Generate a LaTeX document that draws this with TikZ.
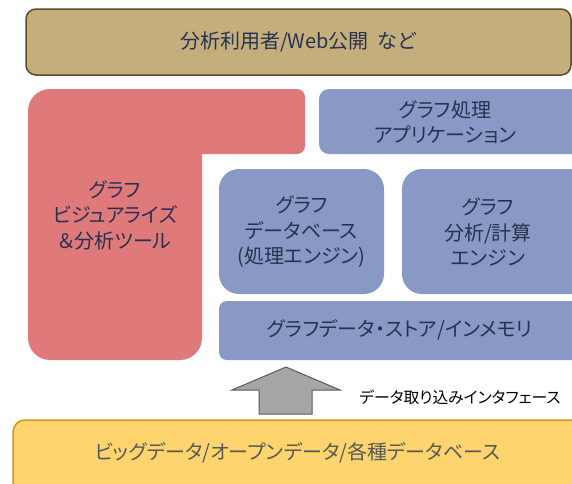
\documentclass[tikz,border=0pt]{standalone}
\usepackage{fontspec}
\setmainfont{Noto Sans CJK JP}[RawFeature={+palt}]
\definecolor{topfill}{HTML}{C4AE7C}
\definecolor{topline}{HTML}{5B4A2A}
\definecolor{redfill}{HTML}{E07A7A}
\definecolor{bluefill}{HTML}{8899C5}
\definecolor{botfill}{HTML}{FDD46E}
\definecolor{botline}{HTML}{D09A10}
\definecolor{txt}{HTML}{283250}
\definecolor{bottxt}{HTML}{595959}
\definecolor{arrowfill}{HTML}{A6A6A6}
\definecolor{arrowline}{HTML}{595959}
\tikzset{
  maintext/.style={text=txt, align=center, font=\fontsize{20}{25.5}\selectfont, inner sep=0pt},
  bluebox/.style={fill=bluefill, draw=none},
}
\begin{document}
\begin{tikzpicture}[x=1pt,y=-1pt]
\useasboundingbox (0,0) rectangle (572,483);
\begin{scope}
\clip (0,0) rectangle (572,483);
% top box
\draw[fill=topfill, draw=topline, line width=1.5pt, rounded corners=10] (26,9) rectangle (571,75);
\node[maintext] (top) at (298,42) {分析利用者/Web公開\ \ など};
% red L-shape
\fill[redfill, rounded corners=22] (28,89) rectangle (202,360);
\fill[redfill, rounded corners=8] (50,89) rectangle (305,154);
\node[maintext] (vis) at (115,215) {グラフ\\ビジュアライズ\\＆分析ツール};
% blue boxes
\fill[bluefill, rounded corners=10] (319,89) rectangle (582,154);
\node[maintext] (app) at (445,122) {グラフ処理\\アプリケーション};
\fill[bluefill, rounded corners=20] (219,169) rectangle (384,294);
\node[maintext] (db) at (301.5,232) {グラフ\\データベース\\(処理エンジン)};
\fill[bluefill, rounded corners=20] (402,169) rectangle (592,294);
\node[maintext] (ana) at (488,232) {グラフ\\分析/計算\\エンジン};
\fill[bluefill, rounded corners=8] (219,301) rectangle (582,360);
\node[maintext] (store) at (400,330) {グラフデータ・ストア/インメモリ};
% arrow
\coordinate (tip) at (286,367);
\draw[fill=arrowfill, draw=arrowline, line width=1pt, line join=miter]
  (tip) -- (340,390) -- (312,390) -- (312,414) -- (259,414) -- (259,390) -- (232,390) -- cycle;
\node[text=black, font=\fontsize{15.8}{18}\selectfont, inner sep=0pt] (lbl) at (460,397) {データ取り込みインタフェース};
% bottom box
\draw[fill=botfill, draw=botline, line width=1.5pt, rounded corners=12] (13,420) rectangle (600,510);
\node[maintext, text=bottxt] (bot) at (297.5,453) {ビッグデータ/オープンデータ/各種データベース};
\end{scope}
\end{tikzpicture}
\end{document}
